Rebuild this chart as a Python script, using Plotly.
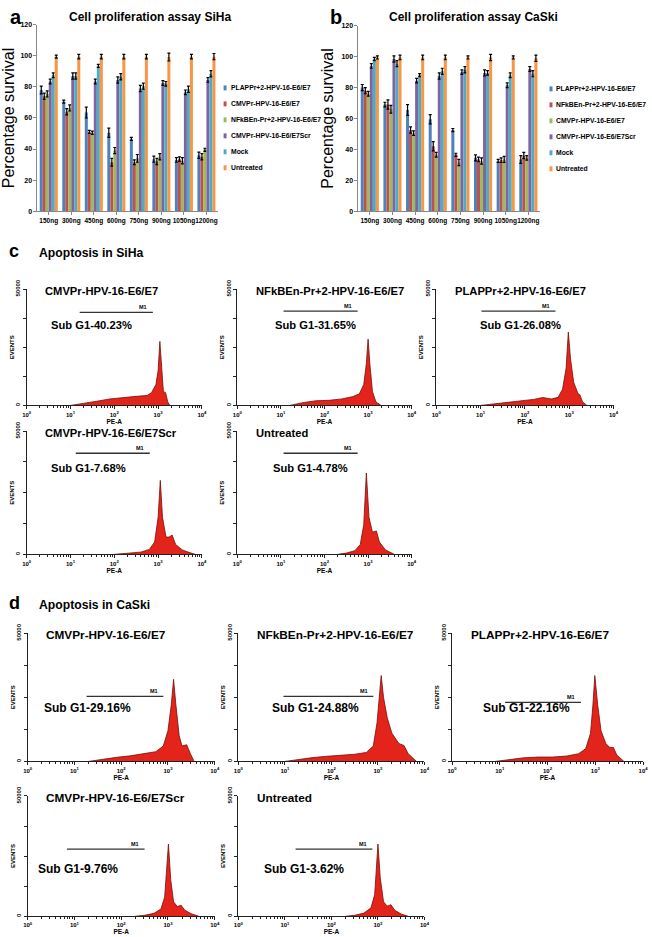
import numpy as np
import plotly.graph_objects as go

W, H = 652, 937
FONT = "Liberation Sans"

# ---------------- data: proliferation assays ----------------
doses = ["150ng", "300ng", "450ng", "600ng", "750ng", "900ng", "1050ng", "1200ng"]

siha_names = ["PLAPPr+2-HPV-16-E6/E7", "CMVPr-HPV-16-E6/E7", "NFkBEn-Pr+2-HPV-16-E6/E7",
              "CMVPr-HPV-16-E6/E7Scr", "Mock", "Untreated"]
siha_plap = [78, 70.5, 63.5, 50.5, 46.5, 33.5, 33, 36]
siha_cmv = [74, 64, 51, 31.5, 31.5, 32, 33.5, 35]
siha_nfkb = [75.5, 66.5, 50.5, 39, 34, 35, 32.5, 39.5]
siha_scr = [83.5, 87, 83.5, 84.5, 79, 82.5, 76.5, 84.5]
siha_mock = [87.5, 87, 93.5, 86.5, 80.5, 82, 78.5, 88.5]
siha_untr = [99.5, 99.5, 99.5, 99.5, 99.5, 99.2, 99.5, 99.5]
siha_plap_err = [2.5, 1, 3.5, 3, 1, 2, 1.5, 2]
siha_cmv_err = [2, 2, 1, 2.5, 1.5, 2, 1.5, 2]
siha_nfkb_err = [2, 2, 1, 2, 2.5, 2, 2, 1]
siha_scr_err = [1.5, 2, 1.5, 2, 2, 1.5, 1.5, 1.5]
siha_mock_err = [1.5, 2, 1, 2, 2, 1.5, 2, 2]
siha_untr_err = [1, 1.5, 1.5, 1.5, 1.5, 2.5, 1.5, 2]

caski_names = ["PLAPPr+2-HPV-16-E6/E7", "NFkBEn-Pr+2-HPV-16-E6/E7", "CMVPr-HPV-16-E6/E7",
               "CMVPr-HPV-16-E6/E7Scr", "Mock", "Untreated"]
caski_plap = [80, 69, 65.5, 59.5, 52.5, 34.5, 32.5, 33.5]
caski_nfkb = [78, 69, 52.5, 42, 36.5, 33.5, 33, 36]
caski_cmv = [76, 66, 50.5, 36.5, 31.5, 32.5, 33.5, 34.5]
caski_scr = [94, 98.5, 84.5, 87.5, 90, 89.5, 81.5, 92]
caski_mock = [98.5, 95.5, 88, 90.5, 91.5, 89.5, 88, 89]
caski_untr = [99.5, 99.5, 99.5, 99.5, 99.5, 99.5, 99.5, 99]
caski_plap_err = [2, 1.5, 3.5, 3, 1, 2, 1, 2.5]
caski_nfkb_err = [2, 3, 2, 3, 1, 1.5, 1.5, 2]
caski_cmv_err = [1.5, 2.5, 1.5, 1.5, 2, 2, 2, 1.5]
caski_scr_err = [1.5, 2, 1.5, 2, 1.5, 2, 1.5, 1.5]
caski_mock_err = [1, 2, 1, 2, 2, 1.5, 1.5, 2]
caski_untr_err = [1, 1.5, 1.5, 1.5, 1, 2, 1, 2]

bar_colors = ["#4F81BD", "#C0504D", "#9BBB59", "#8064A2", "#4BACC6", "#F79646"]

# ---------------- data: flow cytometry histograms ----------------
# PE-A position in decades (log10) and EVENTS
c1_log = [1.0, 1.3, 1.6, 1.9, 2.2, 2.5, 2.75, 2.85, 2.95, 3.0, 3.04, 3.08, 3.12, 3.17, 3.22, 3.27]
c1_ev = [0, 800, 1800, 2800, 3500, 3900, 4300, 5500, 9000, 15000, 27500, 16000, 6000, 5500, 1500, 0]
c2_log = [1.2, 1.5, 1.8, 2.1, 2.4, 2.65, 2.8, 2.9, 2.96, 3.0, 3.04, 3.1, 3.18, 3.3]
c2_ev = [0, 1200, 2000, 2200, 2800, 3800, 5000, 9000, 18000, 28500, 18000, 6000, 1500, 0]
c3_log = [1.0, 1.3, 1.6, 1.9, 2.2, 2.4, 2.6, 2.75, 2.85, 2.93, 2.98, 3.03, 3.1, 3.2, 3.24, 3.3, 3.4]
c3_ev = [0, 700, 1500, 2100, 2600, 3400, 2800, 3500, 7000, 16000, 31500, 20000, 10000, 5000, 4600, 1500, 0]
c4_log = [2.0, 2.3, 2.6, 2.8, 2.92, 3.0, 3.05, 3.1, 3.18, 3.25, 3.32, 3.4, 3.55, 3.7, 3.85]
c4_ev = [0, 400, 900, 2000, 5000, 15000, 30000, 15000, 7000, 7000, 7800, 4000, 1800, 800, 0]
c5_log = [2.3, 2.5, 2.7, 2.82, 2.9, 2.96, 3.02, 3.1, 3.19, 3.26, 3.4, 3.6]
c5_ev = [0, 500, 1500, 4000, 12000, 33000, 15000, 9000, 9500, 5000, 1800, 0]
d1_log = [1.3, 1.6, 1.9, 2.2, 2.5, 2.74, 2.9, 3.0, 3.07, 3.12, 3.17, 3.24, 3.3, 3.4, 3.48, 3.56]
d1_ev = [0, 900, 1600, 2200, 3000, 3800, 6000, 12000, 22000, 32000, 22000, 10000, 6000, 6500, 3000, 0]
d2_log = [1.0, 1.3, 1.6, 1.9, 2.2, 2.5, 2.75, 2.9, 2.98, 3.03, 3.07, 3.12, 3.2, 3.3, 3.45, 3.56, 3.65, 3.83]
d2_ev = [0, 800, 1500, 2000, 2300, 2800, 3500, 6000, 15000, 25000, 33500, 25000, 17000, 11000, 7000, 6200, 3000, 0]
d3_log = [0.9, 1.2, 1.5, 1.8, 2.1, 2.4, 2.65, 2.8, 2.9, 2.95, 2.99, 3.05, 3.12, 3.22, 3.3, 3.38, 3.45, 3.6]
d3_ev = [0, 700, 1400, 1700, 1700, 2100, 3000, 5000, 11000, 22000, 33500, 22000, 12000, 7000, 5500, 5400, 2500, 0]
d4_log = [2.3, 2.5, 2.7, 2.85, 2.93, 2.97, 3.01, 3.06, 3.12, 3.2, 3.28, 3.36, 3.5, 3.66]
d4_ev = [0, 400, 1200, 3000, 8000, 18000, 30000, 15000, 6000, 4000, 4600, 2500, 1000, 0]
d5_log = [2.3, 2.5, 2.7, 2.85, 2.93, 2.97, 3.0, 3.05, 3.12, 3.2, 3.28, 3.36, 3.5, 3.65]
d5_ev = [0, 400, 1300, 3500, 9000, 20000, 30000, 16000, 6000, 4200, 4800, 2500, 900, 0]

hist_titles = ["CMVPr-HPV-16-E6/E7", "NFkBEn-Pr+2-HPV-16-E6/E7", "PLAPPr+2-HPV-16-E6/E7",
               "CMVPr-HPV-16-E6/E7Scr", "Untreated",
               "CMVPr-HPV-16-E6/E7", "NFkBEn-Pr+2-HPV-16-E6/E7", "PLAPPr+2-HPV-16-E6/E7",
               "CMVPr-HPV-16-E6/E7Scr", "Untreated"]
subg1_labels = ["Sub G1-40.23%", "Sub G1-31.65%", "Sub G1-26.08%", "Sub G1-7.68%", "Sub G1-4.78%",
                "Sub G1-29.16%", "Sub G1-24.88%", "Sub G1-22.16%", "Sub G1-9.76%", "Sub G1-3.62%"]
# M1 gate: start/end decade and height in EVENTS
m1_start = [1.21, 1.06, 1.02, 1.12, 1.06, 1.26, 0.97, 1.11, 0.84, 1.23]
m1_end = [2.88, 2.76, 2.69, 2.81, 2.76, 2.9, 2.9, 2.7, 2.5, 2.88]
m1_height = [40000, 40500, 40500, 41000, 41000, 25400, 25400, 23000, 27900, 27900]
# Sub G1 label anchor: centre decade and EVENTS
label_pos = [1.48, 1.79, 1.89, 1.42, 1.67, 1.28, 1.65, 1.55, 1.07, 1.4]
label_height = [34400, 34400, 34400, 35000, 35000, 20800, 20800, 20800, 19800, 19800]

hist_data = [(c1_log, c1_ev), (c2_log, c2_ev), (c3_log, c3_ev), (c4_log, c4_ev), (c5_log, c5_ev),
             (d1_log, d1_ev), (d2_log, d2_ev), (d3_log, d3_ev), (d4_log, d4_ev), (d5_log, d5_ev)]

# pixel boxes: x0, x1, y of 50000 tick, y of baseline
hist_boxes = [(22, 200, 283, 401), (236, 413, 283, 401), (438, 618, 283, 401),
              (22, 200, 427, 552), (236, 413, 427, 552),
              (23, 213, 632, 762), (237, 426, 632, 762), (454, 648, 632, 762),
              (23, 213, 797, 919), (237, 426, 797, 919)]


def dom_x(x0, x1):
    return [x0 / W, x1 / W]


def dom_y(ytop, ybot):
    return [1 - ybot / H, 1 - ytop / H]


def paper_text(text, x, y, size, anchor="left"):
    return dict(text=text, x=x / W, y=1 - y / H, xref="paper", yref="paper",
                xanchor=anchor, yanchor="middle", showarrow=False, font=dict(size=size))


fig = go.Figure()
layout = dict(width=W, height=H, margin=dict(l=0, r=0, t=0, b=0), paper_bgcolor="white",
              plot_bgcolor="white", showlegend=False, barmode="group", bargap=0.2, bargroupgap=0,
              font=dict(family=FONT, color="black"))
annotations = []
shapes = []

# ---------------- bar panels ----------------
bar_panels = [
    (1, "Cell proliferation assay SiHa", "a", siha_names,
     [siha_plap, siha_cmv, siha_nfkb, siha_scr, siha_mock, siha_untr],
     [siha_plap_err, siha_cmv_err, siha_nfkb_err, siha_scr_err, siha_mock_err, siha_untr_err],
     (33, 216, 15, 204), 147, 3, 222, 79),
    (2, "Cell proliferation assay CaSki", "b", caski_names,
     [caski_plap, caski_nfkb, caski_cmv, caski_scr, caski_mock, caski_untr],
     [caski_plap_err, caski_nfkb_err, caski_cmv_err, caski_scr_err, caski_mock_err, caski_untr_err],
     (359, 543, 16, 204), 476, 328, 553, 80),
]

for idx, title, letter, names, series, errs, box, title_x, letter_x, leg_x, leg_y in bar_panels:
    xa = "x%d" % idx if idx > 1 else "x"
    ya = "y%d" % idx if idx > 1 else "y"
    for name, vals, err, col in zip(names, series, errs, bar_colors):
        fig.add_trace(go.Bar(
            x=doses, y=vals, name=name, xaxis=xa, yaxis=ya,
            marker=dict(color=col, line=dict(width=0)),
            error_y=dict(type="data", array=err, color="black", thickness=1.2, width=1.5),
        ))
    x0, x1, ytop, ybot = box
    key = "" if idx == 1 else str(idx)
    layout["xaxis" + key] = dict(
        domain=dom_x(x0, x1), anchor=ya, showline=True, linecolor="#888", linewidth=1,
        ticks="outside", ticklen=3, tickcolor="#888", tickangle=0,
        tickfont=dict(size=6.5, weight="bold"), showgrid=False, fixedrange=True)
    layout["yaxis" + key] = dict(
        domain=dom_y(ytop, ybot), anchor=xa, range=[0, 120], dtick=20, showline=True,
        linecolor="#888", linewidth=1, ticks="outside", ticklen=3, tickcolor="#888",
        tickfont=dict(size=7, weight="bold"), showgrid=False, zeroline=False,
        title=dict(text="Percentage survival", font=dict(size=16), standoff=3))
    annotations.append(paper_text("<b>%s</b>" % title, title_x, 7, 12, "center"))
    annotations.append(paper_text("<b>%s</b>" % letter, letter_x, 7, 20))
    for k, (name, col) in enumerate(zip(names, bar_colors)):
        yy = leg_y + k * 16.2
        shapes.append(dict(type="rect", xref="paper", yref="paper",
                           x0=leg_x / W, x1=(leg_x + 3) / W,
                           y0=1 - (yy + 2.5) / H, y1=1 - (yy - 2.5) / H,
                           fillcolor=col, line=dict(width=0)))
        annotations.append(paper_text("<b>%s</b>" % name, leg_x + 5, yy, 6.8))

# ---------------- section headers ----------------
for letter, text, y in [("c", "Apoptosis in SiHa", 246), ("d", "Apoptosis in CaSki", 603)]:
    annotations.append(paper_text("<b>%s</b>" % letter, 2, y - 2, 18))
    annotations.append(paper_text("<b>%s</b>" % text, 32, y, 12.2))

# ---------------- histograms ----------------
decade_vals = [1, 10, 100, 1000, 10000]
decade_text = ["10<sup>%d</sup>" % i for i in range(5)]

for i, ((lg, ev), box) in enumerate(zip(hist_data, hist_boxes)):
    n = i + 3
    xa, ya = "x%d" % n, "y%d" % n
    x0, x1, ytop, ybot = box
    big = i >= 5
    fig.add_trace(go.Scatter(
        x=10 ** np.array(lg), y=ev, mode="lines", fill="tozeroy", xaxis=xa, yaxis=ya,
        line=dict(color="#7a0c08", width=0.8), fillcolor="#E3241B", hoverinfo="skip"))
    fig.add_trace(go.Scatter(
        x=10 ** np.array([m1_start[i], m1_end[i]]), y=[m1_height[i], m1_height[i]],
        mode="lines", xaxis=xa, yaxis=ya, line=dict(color="#333", width=1.3), hoverinfo="skip"))
    layout["xaxis%d" % n] = dict(
        domain=dom_x(x0, x1), anchor=ya, type="log", range=[0, 4], showline=True,
        linecolor="#222", linewidth=1, ticks="outside", ticklen=3, tickcolor="#222",
        tickvals=decade_vals, ticktext=decade_text, tickfont=dict(size=6, weight="bold"),
        minor=dict(ticks="outside", ticklen=2, tickcolor="#222", dtick="D1", showgrid=False),
        showgrid=False, zeroline=False,
        title=dict(text="PE-A", font=dict(size=6.5, weight="bold"), standoff=0))
    layout["yaxis%d" % n] = dict(
        domain=dom_y(ytop, ybot), anchor=xa, range=[0, 50000], showline=True, linecolor="#222",
        linewidth=1, ticks="outside", ticklen=3, tickcolor="#222",
        tickvals=[0, 12500, 25000, 37500, 50000], ticktext=["0", "", "", "", "50000"],
        tickangle=-90, tickfont=dict(size=6, weight="bold"), showgrid=False, zeroline=False,
        title=dict(text="EVENTS", font=dict(size=6, weight="bold"), standoff=0))
    annotations.append(paper_text("<b>%s</b>" % hist_titles[i], x0 + 17, ytop + 2,
                                  11.8 if big else 11.2))
    annotations.append(dict(text="<b>M1</b>", x=m1_end[i] - 0.08, y=m1_height[i], xref=xa, yref=ya,
                            xanchor="right", yanchor="bottom", showarrow=False, font=dict(size=5.5)))
    annotations.append(dict(text="<b>%s</b>" % subg1_labels[i], x=label_pos[i], y=label_height[i],
                            xref=xa, yref=ya, xanchor="center", yanchor="middle", showarrow=False,
                            font=dict(size=12 if big else 11.2)))

layout["annotations"] = annotations
layout["shapes"] = shapes
fig.update_layout(**layout)
# drop the default page margin so the figure sits at the window's top-left corner
fig.write_html("out.html", config={"displayModeBar": False},
               post_script="document.body.style.margin='0';")
